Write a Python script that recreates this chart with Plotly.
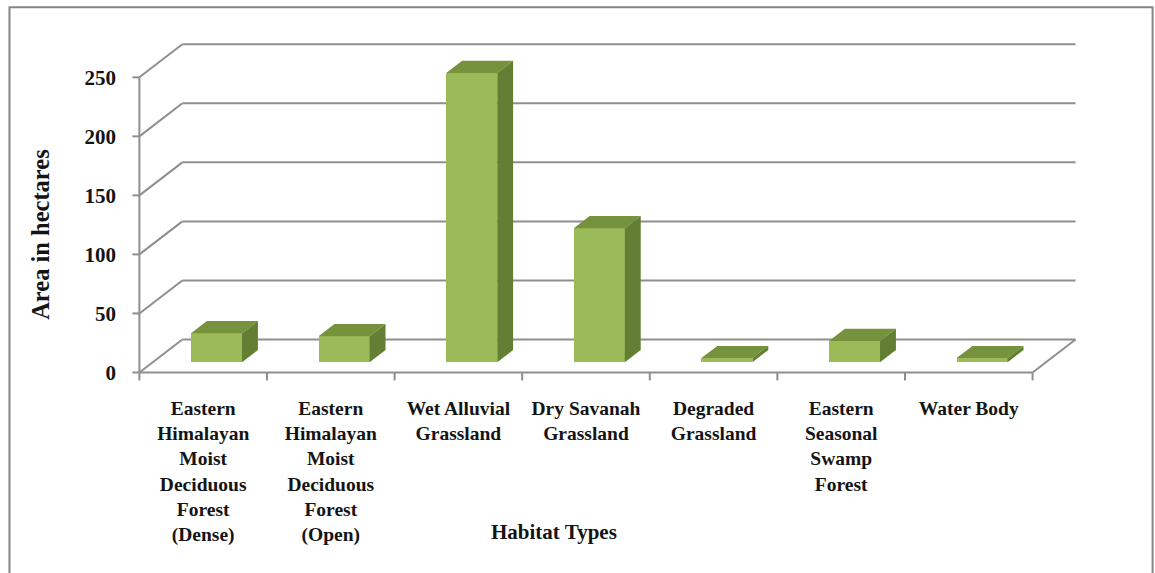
import plotly.graph_objects as go

categories = [
    "Eastern<br>Himalayan<br>Moist<br>Deciduous<br>Forest<br>(Dense)",
    "Eastern<br>Himalayan<br>Moist<br>Deciduous<br>Forest<br>(Open)",
    "Wet Alluvial<br>Grassland",
    "Dry Savanah<br>Grassland",
    "Degraded<br>Grassland",
    "Eastern<br>Seasonal<br>Swamp<br>Forest",
    "Water Body",
]
values = [24.5, 22, 245, 113.5, 3.5, 18, 3.5]
y_ticks = [0, 50, 100, 150, 200, 250]

W, H = 1155, 573
PX_X0, PX_Y0 = 139.0, 372.0      # pixel of the axis origin
PX_CAT, PX_UNIT = 127.7, 1.18    # pixels per category, per value unit
DEPTH_X, DEPTH_Y = 43 / PX_CAT, 33 / PX_UNIT  # oblique projection of the floor depth
BAR_FRONT, BAR_BACK = 0.31, 0.68
BAR_W = 0.40

X_RANGE = [-0.05, 7.45]
Y_RANGE = [-3.0, 285.0]
plot_l = PX_X0 + X_RANGE[0] * PX_CAT
plot_r = PX_X0 + X_RANGE[1] * PX_CAT
plot_t = PX_Y0 - Y_RANGE[1] * PX_UNIT
plot_b = PX_Y0 - Y_RANGE[0] * PX_UNIT


def xp(px):
    return (px - plot_l) / (plot_r - plot_l)


def yp(py):
    return (plot_b - py) / (plot_b - plot_t)


GRID = "#8f8f8f"
FRONT, TOP, SIDE = "#9bbb59", "#76923c", "#637f33"
TEXT = "#141414"
FONT = "Liberation Serif"

n = len(categories)
centers = [i + 0.5 + BAR_FRONT * DEPTH_X for i in range(n)]
floor_front = BAR_FRONT * DEPTH_Y

fig = go.Figure()
fig.add_trace(go.Bar(
    x=centers, y=values, base=floor_front, width=BAR_W,
    marker=dict(color=FRONT, line=dict(width=0)), showlegend=False,
))

d = (BAR_BACK - BAR_FRONT)
for c, v in zip(centers, values):
    x0, x1 = c - BAR_W / 2, c + BAR_W / 2
    y0, y1 = floor_front, floor_front + v
    ox, oy = d * DEPTH_X, d * DEPTH_Y
    fig.add_trace(go.Scatter(
        x=[x0, x0 + ox, x1 + ox, x1, x0], y=[y1, y1 + oy, y1 + oy, y1, y1],
        mode="lines", fill="toself", fillcolor=TOP, line=dict(width=0),
        showlegend=False, hoverinfo="skip",
    ))
    fig.add_trace(go.Scatter(
        x=[x1, x1 + ox, x1 + ox, x1, x1], y=[y1, y1 + oy, y0 + oy, y0, y1],
        mode="lines", fill="toself", fillcolor=SIDE, line=dict(width=0),
        showlegend=False, hoverinfo="skip",
    ))

shapes = []


def seg(x0, y0, x1, y1, color=GRID, width=2):
    shapes.append(dict(type="line", xref="x", yref="y", x0=x0, y0=y0, x1=x1, y1=y1,
                       layer="below", line=dict(color=color, width=width)))


for t in y_ticks:
    seg(0, t, DEPTH_X, t + DEPTH_Y)
    seg(DEPTH_X, t + DEPTH_Y, n + DEPTH_X, t + DEPTH_Y)
    shapes.append(dict(type="line", xref="paper", yref="y", x0=xp(PX_X0 - 7), x1=xp(PX_X0),
                       y0=t, y1=t, layer="below", line=dict(color=GRID, width=2)))
seg(0, 0, 0, y_ticks[-1])
seg(0, 0, n, 0)
seg(n, 0, n + DEPTH_X, DEPTH_Y)
for i in range(n + 1):
    shapes.append(dict(type="line", xref="x", yref="paper", x0=i, x1=i,
                       y0=yp(PX_Y0), y1=yp(PX_Y0 + 8), layer="below",
                       line=dict(color=GRID, width=2)))
# outer chart frame (open at the bottom, as cropped in the source)
shapes.append(dict(type="path", xref="paper", yref="paper",
                   path=f"M {xp(9)} {yp(573)} L {xp(9)} {yp(7)} L {xp(1153)} {yp(7)} L {xp(1153)} {yp(573)}",
                   line=dict(color="#858585", width=2), layer="below"))

fig.update_layout(
    width=W, height=H, autosize=False,
    margin=dict(l=plot_l, r=W - plot_r, t=plot_t, b=H - plot_b, pad=0),
    paper_bgcolor="white", plot_bgcolor="white", showlegend=False,
    shapes=shapes, bargap=0,
    font=dict(family=FONT, color=TEXT),
    xaxis=dict(
        range=X_RANGE, tickmode="array", tickvals=[i + 0.5 for i in range(n)], ticktext=categories,
        ticks="", showgrid=False, zeroline=False, showline=False, tickangle=0,
        ticklabelstandoff=18, tickfont=dict(family=FONT, size=19.5, color=TEXT, weight="bold"),
    ),
    yaxis=dict(
        range=Y_RANGE, tickmode="array", tickvals=y_ticks,
        ticks="", showgrid=False, zeroline=False, showline=False,
        ticklabelstandoff=16, tickfont=dict(family=FONT, size=21, color=TEXT, weight="bold"),
    ),
    annotations=[
        dict(text="<b>Habitat Types</b>", xref="paper", yref="paper", x=xp(554), y=yp(531),
             xanchor="center", yanchor="middle",
             showarrow=False, font=dict(family=FONT, size=21, color=TEXT)),
        dict(text="<b>Area in hectares</b>", xref="paper", yref="paper", x=xp(40), y=yp(234),
             xanchor="center", yanchor="middle",
             showarrow=False, textangle=-90, font=dict(family=FONT, size=24.5, color=TEXT)),
    ],
)

fig.write_html("out.html", config={"displayModeBar": False},
               post_script="document.body.style.margin='0';")
